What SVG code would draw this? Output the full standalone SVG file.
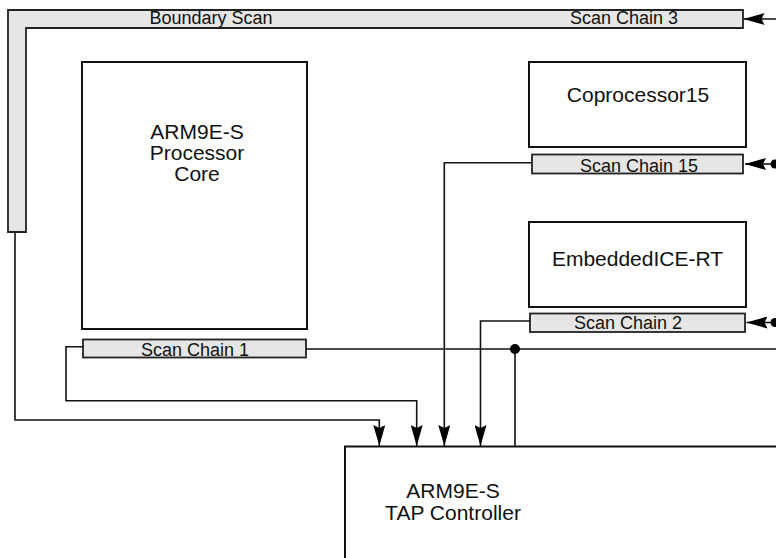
<svg xmlns="http://www.w3.org/2000/svg" width="776" height="558" viewBox="0 0 776 558">
<style>
.box{fill:#fff;stroke:#111;stroke-width:2}
.chain{fill:#e6e6e6;stroke:#222;stroke-width:1.8}
.line{fill:none;stroke:#111;stroke-width:1.6}
.arr{fill:none;stroke:#111;stroke-width:1.6;marker-end:url(#ah)}
text{font-family:"Liberation Sans",Arial,sans-serif;fill:#111;text-anchor:middle}
.lbl{font-size:18px}
.big{font-size:21px}
</style>
<defs>
<marker id="ah" markerUnits="userSpaceOnUse" markerWidth="22" markerHeight="12" viewBox="0 0 22 12" refX="21" refY="6" orient="auto">
<path d="M0,0 L21,6 L0,12 L3,6 Z" fill="#000"/>
</marker>
</defs>
<rect width="776" height="558" fill="#fff"/>
<g id="boundary-scan">
<polygon class="chain" points="8,10 743,10 743,28 26,28 26,232 8,232"/>
<text class="lbl" x="211" y="24">Boundary Scan</text>
<text class="lbl" x="624" y="24">Scan Chain 3</text>
</g>
<g id="processor-core">
<rect class="box" x="82" y="62" width="225" height="267"/>
<text class="big" x="197" y="139">ARM9E-S</text>
<text class="big" x="197" y="160">Processor</text>
<text class="big" x="197" y="181">Core</text>
</g>
<g id="scan-chain-1">
<rect class="chain" x="83" y="339.5" width="223" height="18"/>
<text class="lbl" x="195" y="355.5">Scan Chain 1</text>
</g>
<g id="coprocessor15">
<rect class="box" x="529" y="62" width="217" height="85"/>
<text class="big" x="638" y="101.5">Coprocessor15</text>
</g>
<g id="scan-chain-15">
<rect class="chain" x="532" y="154.5" width="211" height="19"/>
<text class="lbl" x="639" y="172">Scan Chain 15</text>
</g>
<g id="embeddedice-rt">
<rect class="box" x="529" y="222" width="217" height="85"/>
<text class="big" x="637.5" y="266">EmbeddedICE-RT</text>
</g>
<g id="scan-chain-2">
<rect class="chain" x="530" y="313.5" width="215" height="18.5"/>
<text class="lbl" x="628" y="329.3">Scan Chain 2</text>
</g>
<g id="tap-controller">
<path class="box" d="M345,558 V446.5 H776" fill="none"/>
<text class="big" x="453" y="498">ARM9E-S</text>
<text class="big" x="453" y="520">TAP Controller</text>
</g>
<g id="connectors">
<path class="arr" d="M776,19 H743.5"/>
<path class="arr" d="M775,164 H745"/>
<circle cx="775" cy="164" r="4.5" fill="#000"/>
<path class="arr" d="M775,322.5 H746.5"/>
<circle cx="775" cy="322.5" r="4.5" fill="#000"/>
<path class="arr" d="M15,232 V420 H379.3 V446"/>
<path class="arr" d="M83,346.7 H66 V400.7 H416.7 V446"/>
<path class="arr" d="M532,162.7 H444.3 V446"/>
<path class="arr" d="M530,321 H480.5 V446"/>
<path class="line" d="M306,349 H776"/>
<path class="line" d="M515,349 V446"/>
<circle cx="515" cy="349" r="5" fill="#000"/>
</g>
</svg>
